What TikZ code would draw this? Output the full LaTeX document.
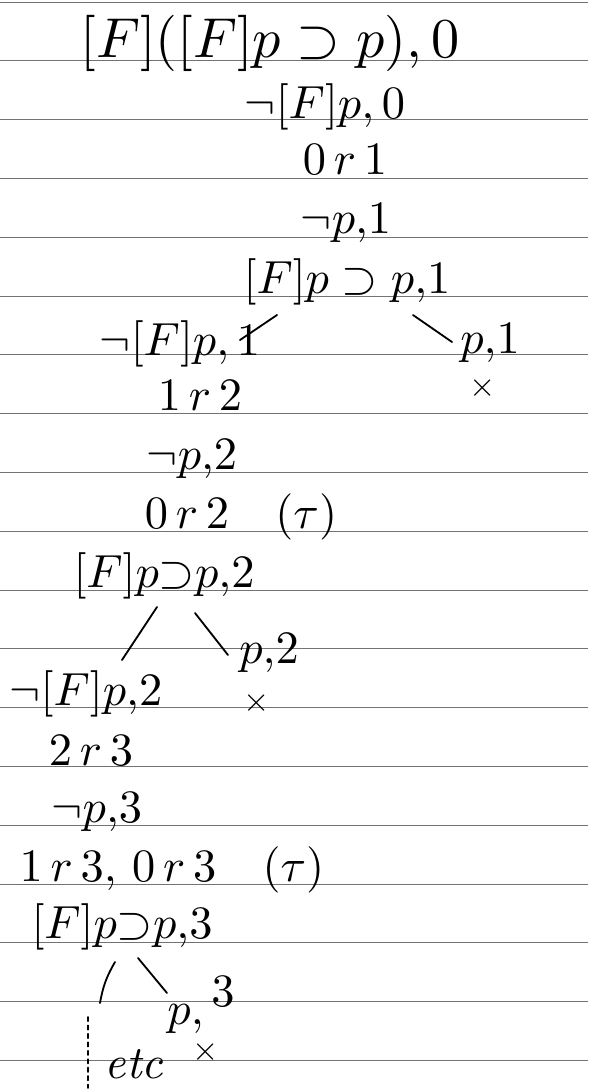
\documentclass[tikz,border=0pt]{standalone}
\usepackage{amsmath}
\usepackage{amssymb}
\definecolor{rulegray}{RGB}{115,115,115}

\begin{document}
\begin{tikzpicture}[x=0.025cm,y=-0.025cm]
\tikzset{
  row/.style={anchor=base, inner sep=0pt, scale=#1},
  row/.default=3.3,
  cross/.style={anchor=center, inner sep=0pt, scale=2.4},
  branch/.style={line width=1.3pt, line cap=round},
}
\useasboundingbox (0,0) rectangle (588,1092);
% ruled paper
\foreach \k in {0,...,18} { \draw[rulegray, line width=0.5pt] (0,{2+58.8*\k}) -- (588,{2+58.8*\k}); }
% world 0 and 1
\node[row=4] (f0) at (270,57) {$[F]([F]p \supset p){,}\,0$};
\node[row] (nf0) at (325,118) {$\neg[F]p{,}\,0$};
\node[row] (r01) at (345,174) {$0\,r\,1$};
\node[row] (np1) at (346,233) {$\neg p{,}1$};
\node[row] (imp1) at (347,293) {$[F]p\supset p{,}1$};
\node[row] (nf1) at (180,355) {$\neg[F]p{,}\,1$};
\node[row] (p1) at (490,353) {$p{,}1$};
\node[cross] (x1) at (483,388) {$\times$};
\coordinate (b1a) at (277,315); \coordinate (b1b) at (240,340);
\coordinate (b1c) at (413,315); \coordinate (b1d) at (452,342);
\draw[branch] (b1a) -- (b1b);
\draw[branch] (b1c) -- (b1d);
% world 2
\node[row] (r12) at (200,410) {$1\,r\,2$};
\node[row] (np2) at (192,469) {$\neg p{,}2$};
\node[row] (r02) at (241,528) {$0\,r\,2$\quad$(\tau)$};
\node[row] (imp2) at (164,587) {$[F]p{\supset}p{,}2$};
\node[row] (nf2) at (86,705) {$\neg[F]p{,}2$};
\node[row] (p2) at (269,663) {$p{,}2$};
\node[cross] (x2) at (257,703) {$\times$};
\coordinate (b2a) at (157,607); \coordinate (b2b) at (122,660);
\coordinate (b2c) at (195,613); \coordinate (b2d) at (228,655);
\draw[branch] (b2a) -- (b2b);
\draw[branch] (b2c) -- (b2d);
% world 3
\node[row] (r23) at (91,765) {$2\,r\,3$};
\node[row] (np3) at (97,822) {$\neg p{,}3$};
\node[row] (r13) at (172,881) {$1\,r\,3{,}\ 0\,r\,3$\quad$(\tau)$};
\node[row] (imp3) at (122,938) {$[F]p{\supset}p{,}3$};
\node[row] (p3) at (201,1024) {$p{,}\,\raisebox{0.9ex}{$3$}$};
\node[cross] (x3) at (206,1052) {$\times$};
\node[row] (etc) at (134,1078) {\textit{etc}};
\coordinate (b3a) at (115,962); \coordinate (b3b) at (100,1003);
\coordinate (b3c) at (138,958); \coordinate (b3d) at (167,993);
\coordinate (d3a) at (88,1017); \coordinate (d3b) at (88,1088);
\draw[branch] (b3a) to[bend right=10] (b3b);
\draw[branch] (b3c) -- (b3d);
\draw[branch, dashed] (d3a) -- (d3b);
\end{tikzpicture}
\end{document}
